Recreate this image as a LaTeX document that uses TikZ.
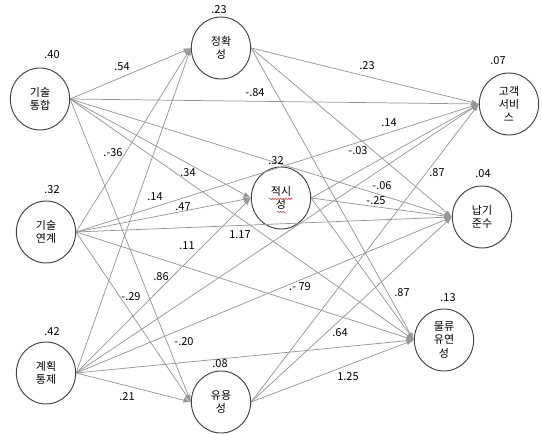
\documentclass[tikz,border=0pt]{standalone}
\usepackage{fontspec}
\setmainfont{Noto Sans CJK KR}
\usetikzlibrary{arrows.meta,shapes.geometric,decorations.pathmorphing}
\definecolor{pathgray}{RGB}{150,150,150}
\definecolor{ringgray}{RGB}{64,64,64}
\definecolor{spellred}{RGB}{230,40,40}
\tikzset{
  latent/.style={ellipse, draw=ringgray, line width=0.7pt, fill=white,
    minimum width=44.5pt, minimum height=46.5pt, inner sep=0pt, align=center,
    font=\fontsize{8.25}{10}\selectfont},
  effect/.style={-{Latex[length=5.5pt,width=3.8pt]}, line width=0.55pt, draw=pathgray},
  coef/.style={font=\fontsize{8.25}{10}\selectfont, inner sep=0pt},
  wavy/.style={draw=spellred, line width=0.35pt,
    decorate, decoration={snake, amplitude=0.5pt, segment length=2pt}}
}
\begin{document}
\begin{tikzpicture}[x=0.75pt, y=-0.75pt]
  \useasboundingbox (0,0) rectangle (542,434);
  % exogenous constructs
  \node[latent] (tg) at (40,99) {기술\\통합};
  \node[latent] (tl) at (46,232) {기술\\연계};
  \node[latent] (gt) at (46,373) {계획\\통제};
  % mediators
  \node[latent] (acc) at (221,48) {정확\\성};
  \node[latent] (tim) at (281,198) {적시\\성};
  \node[latent] (use) at (221,402) {유용\\성};
  % outcomes
  \node[latent] (cs) at (509,104) {고객\\서비\\스};
  \node[latent] (dl) at (482,217) {납기\\준수};
  \node[latent] (fx) at (444,340) {물류\\유연\\성};
  % spell-check marks under 적시성
  \draw[wavy] (269,199) -- (292,199);
  \draw[wavy] (277,212) -- (286,212);
  % paths from 기술통합
  \draw[effect] (tg.east) -- (acc.west);
  \draw[effect] (tg.east) -- (tim.west);
  \draw[effect] (tg.east) -- (use.west);
  \draw[effect] (tg.east) -- (cs.west);
  \draw[effect] (tg.east) -- (dl.west);
  \draw[effect] (tg.east) -- (fx.west);
  % paths from 기술연계
  \draw[effect] (tl.east) -- (acc.west);
  \draw[effect] (tl.east) -- (tim.west);
  \draw[effect] (tl.east) -- (use.west);
  \draw[effect] (tl.east) -- (cs.west);
  \draw[effect] (tl.east) -- (dl.west);
  \draw[effect] (tl.east) -- (fx.west);
  % paths from 계획통제
  \draw[effect] (gt.east) -- (acc.west);
  \draw[effect] (gt.east) -- (tim.west);
  \draw[effect] (gt.east) -- (use.west);
  \draw[effect] (gt.east) -- (cs.west);
  \draw[effect] (gt.east) -- (dl.west);
  \draw[effect] (gt.east) -- (fx.west);
  % paths from the mediators
  \draw[effect] (acc.east) -- (cs.west);
  \draw[effect] (acc.east) -- (dl.west);
  \draw[effect] (acc.east) -- (fx.west);
  \draw[effect] (tim.east) -- (cs.west);
  \draw[effect] (tim.east) -- (dl.west);
  \draw[effect] (tim.east) -- (fx.west);
  \draw[effect] (use.east) -- (cs.west);
  \draw[effect] (use.east) -- (dl.west);
  \draw[effect] (use.east) -- (fx.west);
  % squared multiple correlations
  \node[coef] (r-tg) at (52,55) {.40};
  \node[coef] (r-tl) at (52,190) {.32};
  \node[coef] (r-gt) at (52,332) {.42};
  \node[coef] (r-acc) at (219,10) {.23};
  \node[coef] (r-tim) at (276,161) {.32};
  \node[coef] (r-use) at (220,364) {.08};
  \node[coef] (r-cs) at (498,61) {.07};
  \node[coef] (r-dl) at (483,174) {.04};
  \node[coef] (r-fx) at (448,298) {.13};
  % path coefficients
  \node[coef] (p1) at (122,67) {.54};
  \node[coef] (p2) at (255,93) {-.84};
  \node[coef] (p3) at (113,153) {.-36};
  \node[coef] (p4) at (188,173) {.34};
  \node[coef] (p5) at (155,197) {.14};
  \node[coef] (p6) at (183,207) {.47};
  \node[coef] (p7) at (187,246) {.11};
  \node[coef] (p8) at (240,235) {1.17};
  \node[coef] (p9) at (161,277) {.86};
  \node[coef] (p10) at (131,297) {-.29};
  \node[coef] (p11) at (184,342) {-.20};
  \node[coef] (p12) at (127,397) {.21};
  \node[coef] (p13) at (367,66) {.23};
  \node[coef] (p14) at (389,123) {.14};
  \node[coef] (p15) at (358,151) {-.03};
  \node[coef] (p16) at (382,186) {-.06};
  \node[coef] (p17) at (376,201) {-.25};
  \node[coef] (p18) at (437,173) {.87};
  \node[coef] (p19) at (300,287) {.- 79};
  \node[coef] (p20) at (402,293) {.87};
  \node[coef] (p21) at (340,333) {.64};
  \node[coef] (p22) at (348,377) {1.25};
\end{tikzpicture}
\end{document}
